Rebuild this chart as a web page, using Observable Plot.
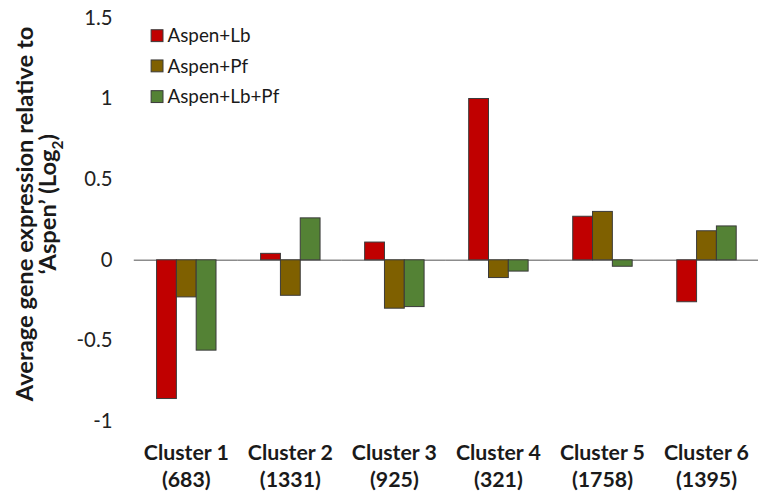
<!DOCTYPE html>
<html>
<head>
<meta charset="utf-8">
<script src="https://cdn.jsdelivr.net/npm/d3@7"></script>
<script src="https://cdn.jsdelivr.net/npm/@observablehq/plot@0.6"></script>
<style>
  html, body { margin: 0; padding: 0; background: #fff; overflow: hidden; }
  #chart { width: 760px; height: 497px; overflow: hidden; }
</style>
</head>
<body>
<div id="chart"></div>
<script>
// ---- data ----
const clusters = ["Cluster 1", "Cluster 2", "Cluster 3", "Cluster 4", "Cluster 5", "Cluster 6"];
const clusterCounts = [683, 1331, 925, 321, 1758, 1395];
const seriesNames = ["Aspen+Lb", "Aspen+Pf", "Aspen+Lb+Pf"];
const seriesColors = ["#C00000", "#7F6000", "#548235"];
const aspenLb   = [-0.86, 0.04, 0.11, 1.00, 0.27, -0.26];
const aspenPf   = [-0.23, -0.22, -0.30, -0.11, 0.30, 0.18];
const aspenLbPf = [-0.56, 0.26, -0.29, -0.07, -0.04, 0.21];
const yTicks = [-1, -0.5, 0, 0.5, 1, 1.5];

const seriesValues = [aspenLb, aspenPf, aspenLbPf];
const table = [];
clusters.forEach((c, i) => {
  seriesNames.forEach((s, j) => table.push({cluster: c, series: s, value: seriesValues[j][i]}));
});

const FONT = "Lato, 'Open Sans', sans-serif";

const chart = Plot.plot({
  width: 767,
  height: 497,
  marginLeft: 133,
  marginRight: 0,
  marginTop: 18,
  marginBottom: 72,
  style: {fontFamily: FONT, background: "#fff", color: "#222"},
  fx: {domain: clusters, paddingInner: 0, paddingOuter: 0, label: null},
  x: {domain: seriesNames, paddingInner: 0, paddingOuter: 1.08, axis: null},
  y: {domain: [-1, 1.5], label: null},
  color: {domain: seriesNames, range: seriesColors},
  marks: [
    Plot.ruleY([0], {stroke: "#8c8c8c", strokeWidth: 1.6}),
    Plot.barY(table, {fx: "cluster", x: "series", y: "value", fill: "series",
                      stroke: "#3a3a3a", strokeWidth: 1, inset: 0}),
    Plot.axisY({ticks: yTicks, tickSize: 0, tickPadding: 22, tickFormat: d => String(d),
                fontSize: 20.5, fill: "#222", label: null}),
    Plot.axisFx({anchor: "bottom", tickSize: 0, tickPadding: 20, label: null,
                 fontSize: 21.5, fontWeight: "bold", fill: "#1a1a1a", lineHeight: 1.26,
                 tickFormat: (d) => d + "\n(" + clusterCounts[clusters.indexOf(d)] + ")"})
  ]
});

document.getElementById("chart").appendChild(chart);

const svg = d3.select(chart);

// ---- y axis title (two rotated lines) ----
const title = svg.append("g")
  .attr("font-family", FONT)
  .attr("font-weight", "bold")
  .attr("fill", "#1a1a1a")
  .attr("text-anchor", "start");

const t1 = title.append("text")
  .attr("font-size", 21)
  .attr("text-anchor", "start")
  .text("Average gene expression relative to");
const len1 = t1.node().getComputedTextLength();
const fs = 21 * 378 / len1;
t1.attr("font-size", fs);
const L1 = t1.node().getComputedTextLength();
t1.attr("transform", `translate(33,${216 + L1 / 2}) rotate(-90)`);

const t2 = title.append("text")
  .attr("font-size", fs)
  .attr("text-anchor", "start");
t2.append("tspan").text("\u2018Aspen\u2019 (Log");
t2.append("tspan").attr("font-size", fs * 0.65).attr("dy", fs * 0.28).text("2");
t2.append("tspan").attr("dy", -fs * 0.28).text(")");
const L2 = t2.node().getComputedTextLength();
t2.attr("transform", `translate(57,${206 + L2 / 2}) rotate(-90)`);

// ---- legend (inside plot area, top-left) ----
const legend = svg.append("g").attr("font-family", FONT).attr("text-anchor", "start");
const rowY = [36, 66.5, 97.5];
seriesNames.forEach((name, i) => {
  legend.append("rect")
    .attr("x", 152.5).attr("y", rowY[i] - 6)
    .attr("width", 12).attr("height", 12)
    .attr("fill", seriesColors[i])
    .attr("stroke", "#3a3a3a").attr("stroke-width", 1);
  legend.append("text")
    .attr("x", 169).attr("y", rowY[i])
    .attr("dy", "0.36em")
    .attr("font-size", 19)
    .attr("fill", "#1a1a1a")
    .attr("text-anchor", "start")
    .text(name);
});
</script>
</body>
</html>
